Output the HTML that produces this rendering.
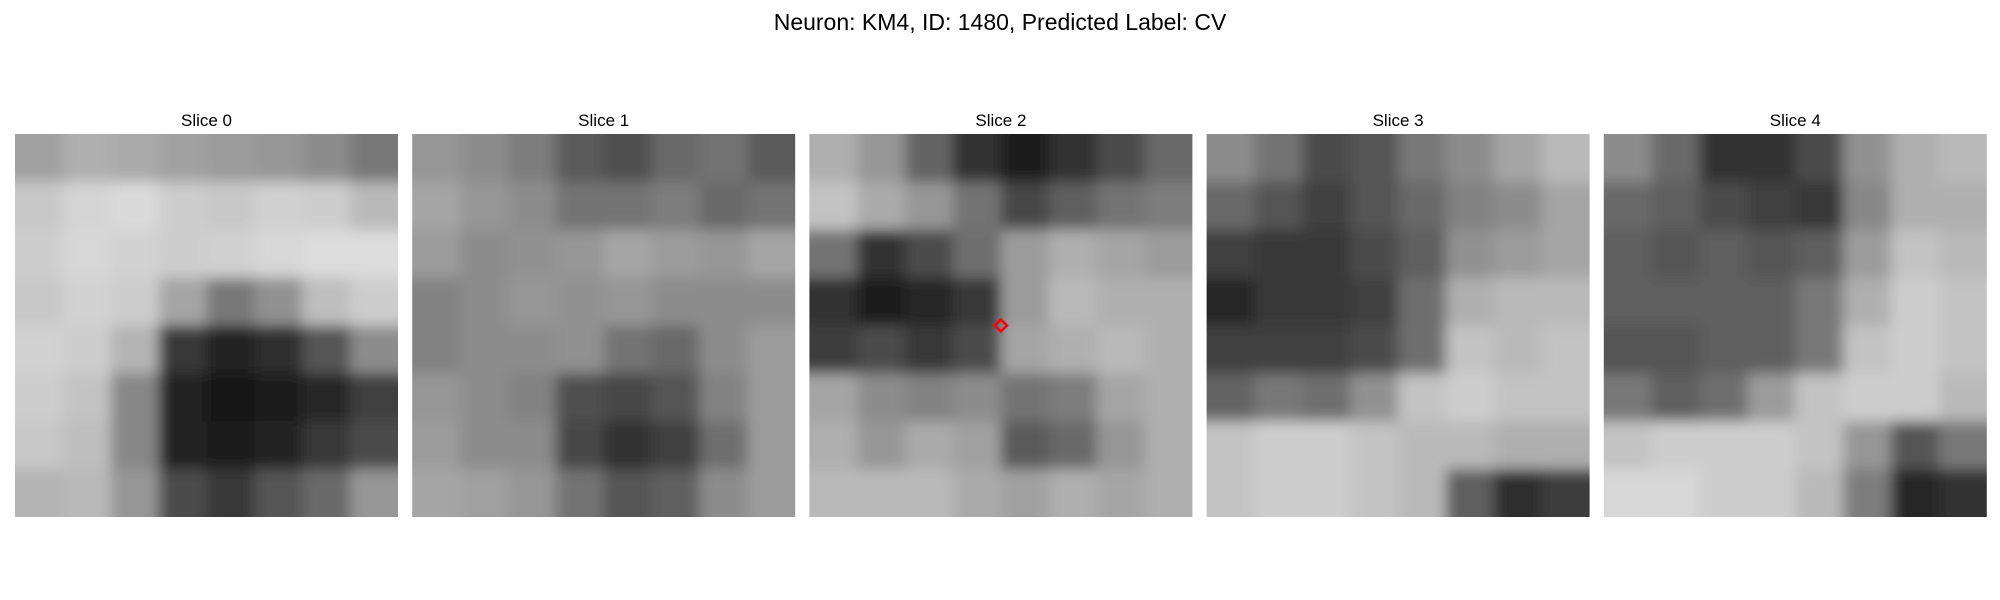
<!DOCTYPE html>
<html><head><meta charset="utf-8"><style>
html,body{margin:0;padding:0;background:#fff;width:2000px;height:600px;overflow:hidden}
text{font-family:"Liberation Sans","DejaVu Sans",sans-serif}
</style></head><body>
<svg id="fig" width="2000" height="600" viewBox="0 0 2000 600" xmlns="http://www.w3.org/2000/svg">
<defs><filter id="bl" filterUnits="userSpaceOnUse" x="-100" y="-100" width="600" height="600"><feGaussianBlur stdDeviation="7"/></filter></defs>
<text x="1000" y="30" text-anchor="middle" font-size="23" fill="#000">Neuron: KM4, ID: 1480, Predicted Label: CV</text>
<g id="panels"></g>
</svg>
<script>
const sliceLabels=["Slice 0","Slice 1","Slice 2","Slice 3","Slice 4"];
const slice0=[[160,175,170,160,155,150,140,120],[200,212,218,205,200,208,205,185],[205,215,210,205,208,215,220,220],[200,210,205,165,120,145,190,205],[210,205,180,55,35,45,85,140],[205,195,135,35,20,30,40,65],[200,190,135,35,30,35,55,75],[180,185,150,75,55,85,105,150]];
const slice1=[[150,140,125,90,80,105,115,90],[165,150,140,115,115,125,105,115],[155,140,145,150,165,155,150,165],[130,140,150,145,150,140,140,140],[130,140,140,145,115,105,140,155],[150,140,130,80,70,85,130,155],[155,140,140,70,50,65,110,155],[165,160,150,115,85,95,140,155]];
const slice2=[[175,150,100,50,30,50,75,105],[195,170,150,115,70,95,115,125],[115,50,75,110,155,175,165,155],[50,30,40,55,155,185,175,175],[60,75,55,75,165,175,185,175],[165,140,130,140,115,125,165,175],[175,150,170,160,90,105,150,175],[185,185,185,170,160,175,165,175]];
const slice3=[[140,115,75,85,120,140,165,185],[105,85,65,85,105,130,140,165],[65,55,55,75,95,145,155,165],[40,55,55,65,110,175,185,185],[65,65,65,75,110,195,185,195],[100,120,110,145,195,205,195,195],[195,205,205,195,185,185,175,175],[195,205,205,195,185,95,45,60]];
const slice4=[[140,105,50,50,75,145,175,185],[105,95,75,65,55,135,175,175],[95,85,95,85,95,155,195,185],[95,95,95,95,120,175,205,195],[85,85,95,95,120,195,205,195],[120,95,110,155,195,205,205,185],[195,205,205,205,195,150,85,120],[215,215,205,205,185,125,40,50]];
const markerSlice=2, markerCol=16, markerRow=16;
const slices=[slice0,slice1,slice2,slice3,slice4];
const NS="http://www.w3.org/2000/svg";
const panelX=i=>15+i*397.2, panelY=134, panelW=383;
const cell=panelW/8, pad=40;
const g=document.getElementById('panels');
slices.forEach((grid,i)=>{
  const x0=panelX(i);
  const t=document.createElementNS(NS,'text');
  
  
  t.setAttribute('x',x0+panelW/2);t.setAttribute('y',126);t.setAttribute('text-anchor','middle');t.setAttribute('font-size','17');
  t.textContent=sliceLabels[i];g.appendChild(t);
  const sv=document.createElementNS(NS,'svg');
  
  
  sv.setAttribute('x',x0);sv.setAttribute('y',panelY);sv.setAttribute('width',panelW);sv.setAttribute('height',panelW);
  const gg=document.createElementNS(NS,'g');gg.setAttribute('filter','url(#bl)');
  grid.forEach((row,r)=>row.forEach((v,c)=>{
    const rc=document.createElementNS(NS,'rect');
    
    
    const x=c*cell-(c===0?pad:0), y=r*cell-(r===0?pad:0);
    const w=cell+0.5+(c===0?pad:0)+(c===7?pad:0), h=cell+0.5+(r===0?pad:0)+(r===7?pad:0);
    rc.setAttribute('x',x);rc.setAttribute('y',y);rc.setAttribute('width',w);rc.setAttribute('height',h);
    rc.setAttribute('fill',`rgb(${v},${v},${v})`);gg.appendChild(rc);
  }));
  sv.appendChild(gg);g.appendChild(sv);
  if(i===markerSlice){
    const px=x0+markerCol*panelW/32, py=panelY+markerRow*panelW/32, s=6;
    const m=document.createElementNS(NS,'polygon');
    
    
    m.setAttribute('points',`${px},${py-s} ${px+s},${py} ${px},${py+s} ${px-s},${py}`);
    m.setAttribute('fill','none');m.setAttribute('stroke','#ff0000');m.setAttribute('stroke-width','2.5');
    g.appendChild(m);
  }
});
</script>
</body></html>
